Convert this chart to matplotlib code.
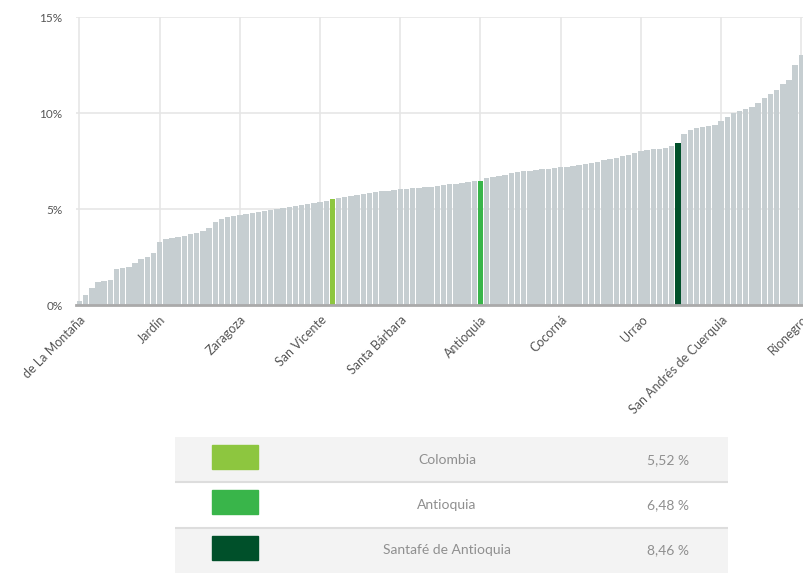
import matplotlib
matplotlib.use("Agg")
import matplotlib.pyplot as plt
import numpy as np

# sorted share per municipality (%), visible part of the chart
values = [
    0.2, 0.5, 0.9, 1.2, 1.25, 1.3, 1.9, 1.95, 2.0, 2.2,
    2.4, 2.5, 2.7, 3.3, 3.45, 3.5, 3.55, 3.6, 3.7, 3.75,
    3.85, 4.0, 4.3, 4.5, 4.6, 4.65, 4.7, 4.75, 4.8, 4.85,
    4.9, 4.95, 5.0, 5.05, 5.1, 5.15, 5.2, 5.25, 5.3, 5.35,
    5.4, 5.52, 5.57, 5.62, 5.68, 5.75, 5.8, 5.85, 5.88, 5.92,
    5.95, 6.0, 6.02, 6.05, 6.08, 6.1, 6.13, 6.17, 6.2, 6.25,
    6.28, 6.32, 6.36, 6.4, 6.44, 6.48, 6.6, 6.65, 6.7, 6.78,
    6.85, 6.92, 6.97, 7.0, 7.03, 7.06, 7.1, 7.13, 7.17, 7.2,
    7.25, 7.3, 7.35, 7.4, 7.47, 7.55, 7.62, 7.68, 7.75, 7.82,
    7.9, 8.0, 8.05, 8.1, 8.15, 8.2, 8.3, 8.46, 8.9, 9.1,
    9.2, 9.25, 9.3, 9.4, 9.6, 9.8, 10.0, 10.1, 10.2, 10.3,
    10.5, 10.8, 11.0, 11.2, 11.5, 11.7, 12.5, 13.0,
]
tick_step = 13
tick_labels = [
    "de La Montaña", "Jardín", "Zaragoza", "San Vicente",
    "Santa Bárbara", "Antioquia", "Cocorná", "Urrao",
    "San Andrés de Cuerquia", "Rionegro",
]

highlight_names = ["Colombia", "Antioquia", "Santafé de Antioquia"]
highlight_values = [5.52, 6.48, 8.46]
highlight_labels = ["5,52 %", "6,48 %", "8,46 %"]
highlight_colors = ["#8dc63f", "#39b54a", "#00502a"]

plt.rcParams["font.family"] = ["Lato", "DejaVu Sans"]

fig = plt.figure(figsize=(8.04, 5.75), dpi=100)
W, H = 804, 575
x0 = 79.5
slot = 80.2 / tick_step
ax_left = x0 - slot / 2
ax = fig.add_axes([ax_left / W, 1 - 305 / H, (W - ax_left) / W, (305 - 17) / H])

values = np.array(values)
x = np.arange(len(values))
colors = ["#c6ced1"] * len(values)
widths = [0.88] * len(values)
for v, c in zip(highlight_values, highlight_colors):
    i = int(np.argmin(np.abs(values - v)))
    colors[i] = c
    widths[i] = 0.95
ax.bar(x, values, width=widths, color=colors, zorder=2)

ax.set_xlim(-0.5, (W - x0) / slot)
ax.set_ylim(0, 15)
ax.set_yticks([0, 5, 10, 15])
ax.set_yticklabels(["0%", "5%", "10%", "15%"])
ax.set_xticks(x[::tick_step])
ax.set_xticklabels(tick_labels, rotation=45, ha="right", rotation_mode="anchor")
ax.tick_params(axis="both", length=0, labelsize=9, colors="#555555")
ax.tick_params(axis="y", pad=10, labelsize=8.5)
ax.tick_params(axis="x", pad=6)
ax.grid(True, color="#e6e6e6", linewidth=1.2, zorder=0)
ax.set_axisbelow(True)
for s in ["top", "right", "left"]:
    ax.spines[s].set_visible(False)
ax.spines["bottom"].set_color("#aaaaaa")
ax.spines["bottom"].set_linewidth(2)
ax.spines["bottom"].set_zorder(3)

# legend table below
lx0, lx1, ly0, ly1 = 175, 728, 437, 573
tab = fig.add_axes([lx0 / W, 1 - ly1 / H, (lx1 - lx0) / W, (ly1 - ly0) / H])
tab.set_xlim(lx0, lx1)
tab.set_ylim(ly1, ly0)
tab.axis("off")
row_h = (ly1 - ly0) / 3
bgs = ["#f3f3f3", "#ffffff", "#f3f3f3"]
for k, (name, lab, c) in enumerate(zip(highlight_names, highlight_labels, highlight_colors)):
    top = ly0 + k * row_h
    tab.add_patch(plt.Rectangle((lx0, top), lx1 - lx0, row_h, color=bgs[k], zorder=0))
    if k > 0:
        tab.plot([lx0, lx1], [top, top], color="#dddddd", linewidth=1.5)
    tab.add_patch(plt.Rectangle((212, top + 8), 46, 24, color=c, zorder=1))
    tab.text(447, top + row_h / 2, name, ha="center", va="center",
             fontsize=10, color="#8f8f8f")
    tab.text(668, top + row_h / 2, lab, ha="center", va="center",
             fontsize=10, color="#8f8f8f")

fig.savefig("out.png", dpi=100)
